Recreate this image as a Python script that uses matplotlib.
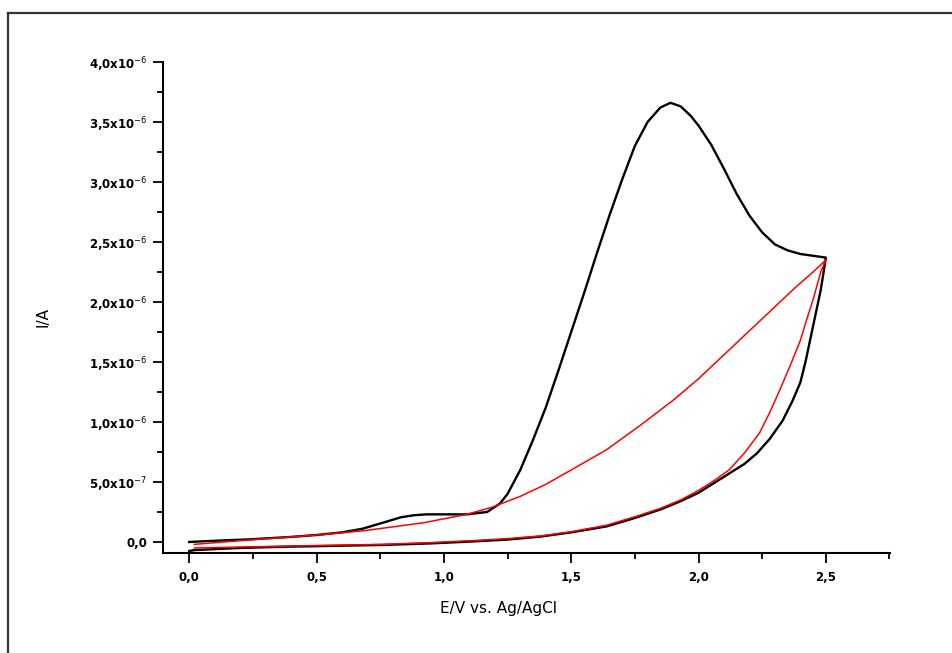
import matplotlib
matplotlib.use("Agg")
import matplotlib.pyplot as plt
from matplotlib.ticker import FixedLocator, FixedFormatter
from matplotlib.lines import Line2D

# Black CV (forward + reverse), E in V, I in 1e-6 A
black_E = [0.00, 0.10, 0.24, 0.40, 0.50, 0.60, 0.68, 0.76, 0.83, 0.88, 0.93, 1.00, 1.09, 1.17,
           1.22, 1.25, 1.30, 1.35, 1.40, 1.45, 1.50, 1.55, 1.60, 1.65, 1.70, 1.75, 1.80, 1.85,
           1.89, 1.93, 1.97, 2.00, 2.05, 2.10, 2.15, 2.20, 2.25, 2.30, 2.35, 2.40, 2.45, 2.50,
           2.495, 2.48, 2.46, 2.44, 2.42, 2.40, 2.37, 2.33, 2.28, 2.23, 2.18, 2.12, 2.06, 2.00,
           1.93, 1.85, 1.75, 1.64, 1.50, 1.38, 1.25, 1.12, 0.95, 0.76, 0.55, 0.37, 0.20, 0.02, 0.00]
black_I = [0.00, 0.010, 0.022, 0.042, 0.058, 0.080, 0.11, 0.16, 0.205, 0.222, 0.23, 0.23, 0.23, 0.25,
           0.32, 0.40, 0.60, 0.85, 1.12, 1.43, 1.75, 2.07, 2.40, 2.72, 3.02, 3.30, 3.50, 3.62,
           3.66, 3.63, 3.55, 3.47, 3.31, 3.11, 2.90, 2.72, 2.58, 2.48, 2.43, 2.40, 2.385, 2.37,
           2.30, 2.10, 1.90, 1.70, 1.50, 1.33, 1.18, 1.01, 0.86, 0.74, 0.65, 0.57, 0.49, 0.41,
           0.34, 0.27, 0.20, 0.13, 0.08, 0.045, 0.02, 0.005, -0.012, -0.025, -0.033, -0.040,
           -0.050, -0.068, -0.075]

# Red CV (forward + reverse)
red_E = [0.02, 0.24, 0.50, 0.68, 0.92, 1.09, 1.19, 1.30, 1.40, 1.50, 1.64, 1.77, 1.90, 2.00,
         2.12, 2.26, 2.38, 2.45, 2.50,
         2.48, 2.45, 2.42, 2.40, 2.36, 2.32, 2.28, 2.24, 2.18, 2.12, 2.06, 2.00, 1.93, 1.85,
         1.75, 1.64, 1.50, 1.38, 1.25, 1.12, 0.95, 0.76, 0.55, 0.37, 0.02]
red_I = [-0.020, 0.017, 0.058, 0.092, 0.16, 0.23, 0.29, 0.38, 0.48, 0.60, 0.77, 0.97, 1.18, 1.36,
         1.60, 1.88, 2.12, 2.25, 2.35,
         2.25, 2.02, 1.82, 1.68, 1.47, 1.27, 1.08, 0.91, 0.74, 0.60, 0.51, 0.43, 0.35, 0.28,
         0.21, 0.14, 0.085, 0.05, 0.028, 0.012, -0.005, -0.020, -0.028, -0.035, -0.050]

x_ticks = [0.0, 0.5, 1.0, 1.5, 2.0, 2.5]
x_tick_labels = ["0,0", "0,5", "1,0", "1,5", "2,0", "2,5"]
y_ticks = [0.0, 0.5, 1.0, 1.5, 2.0, 2.5, 3.0, 3.5, 4.0]
y_tick_labels = ["0,0", "5,0x10$^{-7}$", "1,0x10$^{-6}$", "1,5x10$^{-6}$", "2,0x10$^{-6}$",
                 "2,5x10$^{-6}$", "3,0x10$^{-6}$", "3,5x10$^{-6}$", "4,0x10$^{-6}$"]

W, H = 953, 653
fig = plt.figure(figsize=(W / 100, H / 100), dpi=100)
ax = fig.add_axes([163 / W, 1 - 553 / H, (890 - 163) / W, (553 - 62) / H])

ax.plot(black_E, black_I, color="black", lw=1.7, solid_joinstyle="round")
ax.plot(red_E, red_I, color="#ff0000", lw=1.1, solid_joinstyle="round")

ax.set_xlim(-0.103, 2.752)
ax.set_ylim(-0.092, 4.0)
ax.spines["top"].set_visible(False)
ax.spines["right"].set_visible(False)
for s in ("left", "bottom"):
    ax.spines[s].set_linewidth(1.5)

ax.xaxis.set_major_locator(FixedLocator(x_ticks))
ax.xaxis.set_major_formatter(FixedFormatter(x_tick_labels))
ax.xaxis.set_minor_locator(FixedLocator([0.25, 0.75, 1.25, 1.75, 2.25, 2.75]))
ax.yaxis.set_major_locator(FixedLocator(y_ticks))
ax.yaxis.set_major_formatter(FixedFormatter(y_tick_labels))
ax.yaxis.set_minor_locator(FixedLocator([0.25, 0.75, 1.25, 1.75, 2.25, 2.75, 3.25, 3.75]))

ax.tick_params(which="major", direction="out", length=7, width=1.3, labelsize=8.5, pad=4)
ax.tick_params(which="minor", direction="out", length=4, width=1.3)
ax.tick_params(axis="x", which="major", pad=6)
for lab in ax.get_xticklabels() + ax.get_yticklabels():
    lab.set_fontweight("bold")

fig.text(499 / W, 1 - 608 / H, "E/V vs. Ag/AgCl", ha="center", va="center", fontsize=11)
fig.text(43 / W, 1 - 317 / H, "I/A", ha="center", va="center", rotation=90, fontsize=11)

# outer frame (left and top edges)
fig.add_artist(Line2D([8 / W, 8 / W], [0, 1 - 13 / H], transform=fig.transFigure,
                      color="#333333", lw=1.6))
fig.add_artist(Line2D([8 / W, 1], [1 - 13 / H, 1 - 13 / H], transform=fig.transFigure,
                      color="#333333", lw=1.6))

fig.savefig("out.png", dpi=100)
